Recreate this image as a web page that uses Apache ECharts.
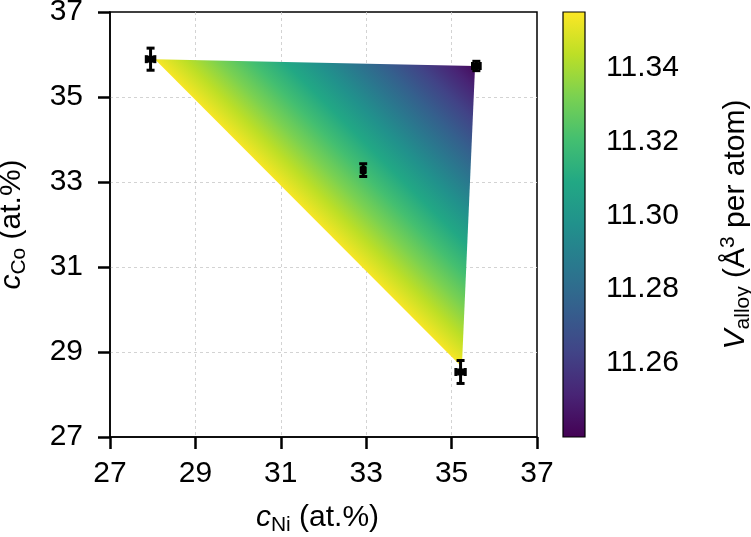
<!DOCTYPE html>
<html>
<head>
<meta charset="utf-8">
<script src="https://cdn.jsdelivr.net/npm/echarts@6/dist/echarts.min.js"></script>
<style>html,body{margin:0;padding:0;background:#fff}#c{width:751px;height:537px}</style>
</head>
<body>
<div id="c"></div>
<script>
// Measured points (c_Ni, c_Co) with error bars
const pointNi = [27.95, 35.58, 32.93, 35.21];
const pointCo = [35.89, 35.73, 33.28, 28.53];
const errNi = [0.10, 0.09, 0.03, 0.11];
const errCo = [0.26, 0.11, 0.15, 0.27];
// Interpolated volume surface vertices
const meshNi = [28.05, 35.55, 35.24];
const meshCo = [35.89, 35.73, 28.65];
const meshV = [11.354, 11.243, 11.354];
// Axes
const axisTicks = [27, 29, 31, 33, 35, 37];
const cbRange = [11.2399, 11.3552];
const cbTicks = [11.26, 11.28, 11.30, 11.32, 11.34];
const viridis = ['#440154','#482475','#414487','#355f8d','#2a788e','#21918c','#22a884','#44bf70','#7ad151','#bddf26','#fde725'];

function stops() { return viridis.map((c, i) => ({offset: i / (viridis.length - 1), color: c})); }
const FONT = 'Liberation Sans';
const FS = 30;

function renderMesh(params, api) {
  if (params.dataIndexInside !== 0) return null;
  const pts = [], vals = [];
  for (let i = 0; i < 3; i++) {
    pts.push(api.coord([api.value(0, i), api.value(1, i)]));
    vals.push(api.value(2, i));
  }
  const d1x = pts[1][0] - pts[0][0], d1y = pts[1][1] - pts[0][1];
  const d2x = pts[2][0] - pts[0][0], d2y = pts[2][1] - pts[0][1];
  const dv1 = vals[1] - vals[0], dv2 = vals[2] - vals[0];
  const det = d1x * d2y - d1y * d2x;
  const gx = (dv1 * d2y - dv2 * d1y) / det;
  const gy = (d1x * dv2 - d2x * dv1) / det;
  const g2 = gx * gx + gy * gy;
  const s0 = (cbRange[0] - vals[0]) / g2, s1 = (cbRange[1] - vals[0]) / g2;
  const grad = new echarts.graphic.LinearGradient(
    pts[0][0] + s0 * gx, pts[0][1] + s0 * gy,
    pts[0][0] + s1 * gx, pts[0][1] + s1 * gy, stops(), true);
  return {type: 'polygon', shape: {points: pts}, style: {fill: grad, stroke: null}};
}

function renderErr(params, api) {
  const x = api.value(0), y = api.value(1), ex = api.value(2), ey = api.value(3);
  const c = api.coord([x, y]);
  const l = api.coord([x - ex, y]), r = api.coord([x + ex, y]);
  const t = api.coord([x, y + ey]), b = api.coord([x, y - ey]);
  const cap = 4;
  const st = {stroke: '#000', lineWidth: 3};
  const ln = (x1, y1, x2, y2) => ({type: 'line', shape: {x1, y1, x2, y2}, style: st});
  return {type: 'group', children: [
    ln(l[0], l[1], r[0], r[1]),
    ln(t[0], t[1], b[0], b[1]),
    ln(l[0], l[1] - cap, l[0], l[1] + cap),
    ln(r[0], r[1] - cap, r[0], r[1] + cap),
    ln(t[0] - cap, t[1], t[0] + cap, t[1]),
    ln(b[0] - cap, b[1], b[0] + cap, b[1]),
    {type: 'rect', shape: {x: c[0] - 3.5, y: c[1] - 3.5, width: 7, height: 7}, style: {fill: '#000'}}
  ]};
}

function renderBar(params, api) {
  const p0 = api.coord([api.value(0), api.value(1)]);
  const p1 = api.coord([api.value(2), api.value(3)]);
  return {type: 'rect', shape: {x: p0[0], y: p1[1], width: p1[0] - p0[0], height: p0[1] - p1[1]},
    style: {fill: new echarts.graphic.LinearGradient(0, 1, 0, 0, stops()), stroke: '#000', lineWidth: 1.2}};
}

const txt = {fontFamily: FONT, fontSize: FS, color: '#000'};
const richBase = {
  i: {fontFamily: FONT, fontSize: FS, fontStyle: 'italic', color: '#000', lineHeight: 36},
  n: {fontFamily: FONT, fontSize: FS, color: '#000', lineHeight: 36},
  sub: {fontFamily: FONT, fontSize: 21, color: '#000', lineHeight: 17, verticalAlign: 'bottom'},
  sup: {fontFamily: FONT, fontSize: 21, color: '#000', lineHeight: 17, verticalAlign: 'top'}
};
const split = {show: true, showMinLine: false, showMaxLine: false, lineStyle: {color: '#c8c8c8', width: 0.8, type: [3, 3]}};

const chart = echarts.init(document.getElementById('c'), null, {renderer: 'canvas'});
chart.setOption({
  animation: false,
  backgroundColor: '#fff',
  grid: [
    {left: 110, top: 12, width: 427, height: 425, show: true, borderColor: '#000', borderWidth: 1.5,
      backgroundColor: 'transparent', outerBoundsMode: 'none', containLabel: false},
    {left: 563, top: 12, width: 22, height: 425, outerBoundsMode: 'none', containLabel: false}
  ],
  xAxis: [
    {type: 'value', gridIndex: 0, min: axisTicks[0], max: axisTicks[axisTicks.length - 1], interval: 2,
      axisLine: {lineStyle: {color: '#000', width: 1.5}},
      axisTick: {length: 12, lineStyle: {color: '#000', width: 2.5}},
      axisLabel: Object.assign({margin: 22}, txt),
      splitLine: split,
      name: '{i|c}{sub|Ni}{n| (at.%)}', nameLocation: 'middle', nameGap: 63,
      nameTextStyle: {rich: richBase, padding: [0, 12, 0, 0]}},
    {type: 'value', gridIndex: 1, min: 0, max: 1, show: false}
  ],
  yAxis: [
    {type: 'value', gridIndex: 0, min: axisTicks[0], max: axisTicks[axisTicks.length - 1], interval: 2,
      axisLine: {lineStyle: {color: '#000', width: 1.5}},
      axisTick: {length: 12, lineStyle: {color: '#000', width: 2.5}},
      axisLabel: Object.assign({margin: 27}, txt),
      splitLine: split,
      name: '{i|c}{sub|Co}{n| (at.%)}', nameLocation: 'middle', nameGap: 80, nameRotate: 90,
      nameTextStyle: {rich: richBase}},
    {type: 'value', gridIndex: 1, position: 'right', min: cbRange[0], max: cbRange[1],
      axisLine: {show: false},
      axisTick: {show: true, length: 12, customValues: cbTicks, lineStyle: {color: '#000', width: 2.5}},
      axisLabel: Object.assign({margin: 21, customValues: cbTicks, formatter: v => Number(v).toFixed(2)}, txt),
      splitLine: {show: false},
      name: '{i|V}{sub|alloy}{n| (Å}{sup|3}{n| per atom)}', nameLocation: 'middle', nameGap: 133, nameRotate: 90,
      nameTextStyle: {rich: richBase}}
  ],
  series: [
    {type: 'custom', xAxisIndex: 0, yAxisIndex: 0, renderItem: renderMesh, z: 2,
      dimensions: ['ni', 'co', 'v'], encode: {x: 0, y: 1},
      data: meshNi.map((x, i) => [x, meshCo[i], meshV[i]]), silent: true},
    {type: 'custom', xAxisIndex: 0, yAxisIndex: 0, renderItem: renderErr, z: 5,
      dimensions: ['ni', 'co', 'eni', 'eco'], encode: {x: 0, y: 1},
      data: pointNi.map((x, i) => [x, pointCo[i], errNi[i], errCo[i]]), silent: true},
    {type: 'custom', xAxisIndex: 1, yAxisIndex: 1, renderItem: renderBar,
      dimensions: ['x0', 'v0', 'x1', 'v1'], encode: {x: [0, 2], y: [1, 3]},
      data: [[0, cbRange[0], 1, cbRange[1]]], silent: true}
  ]
});
</script>
</body>
</html>
